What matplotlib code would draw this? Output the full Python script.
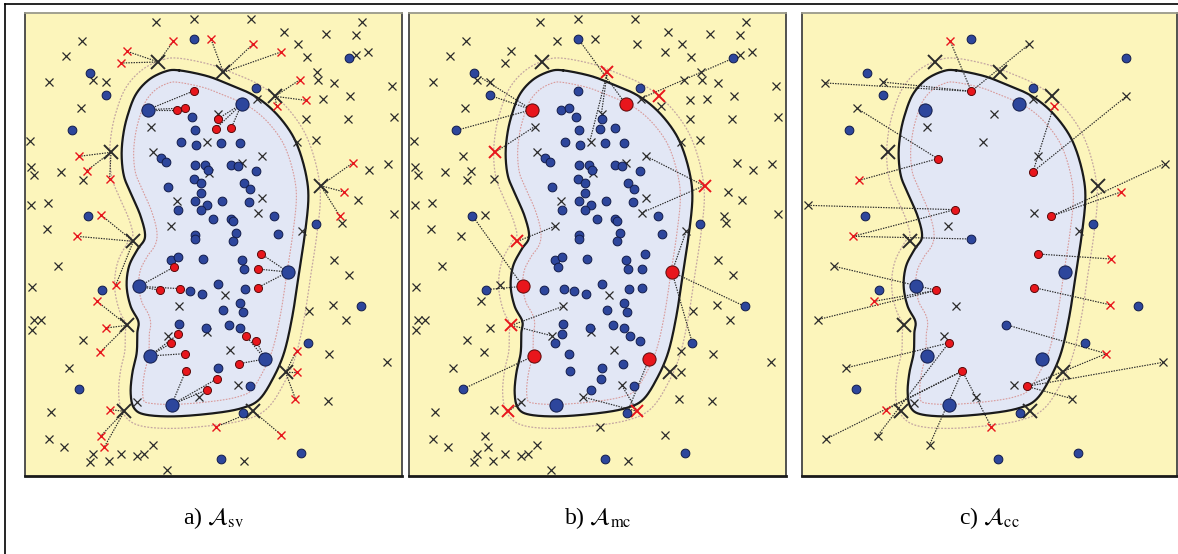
import numpy as np
import matplotlib.pyplot as plt
from matplotlib.path import Path
from matplotlib.lines import Line2D

plt.rcParams['font.family'] = ['Liberation Serif', 'DejaVu Serif']
plt.rcParams['mathtext.fontset'] = 'stix'

# all coordinates in drawing units of one panel (x 28..1159, y 40..1429, y downwards)
# outline of the cluster (smoothed later)
blob_outline = [(490, 212), (570, 228), (630, 250), (710, 285), (770, 330), (820, 390),
                (850, 450), (872, 530), (878, 600), (868, 700), (850, 820), (830, 950),
                (805, 1060), (770, 1140), (730, 1200), (680, 1225), (600, 1240), (480, 1250),
                (390, 1245), (355, 1225), (345, 1180), (350, 1120), (363, 1060), (365, 1000),
                (368, 965), (345, 920), (333, 860), (340, 800), (365, 750), (388, 712),
                (375, 650), (345, 580), (325, 530), (318, 470), (322, 410), (335, 350),
                (360, 285), (400, 240), (450, 215)]

# negative samples (x) and positive samples (dots), shared by panels a and b
x_small = [(420, 66), (536, 58), (705, 58), (1040, 66), (200, 125), (806, 97), (847, 132),
           (931, 104), (1021, 107), (150, 170), (874, 173), (1058, 157), (1021, 167),
           (101, 248), (231, 240), (271, 247), (904, 217), (906, 241), (955, 250), (1128, 258),
           (923, 298), (1003, 290), (196, 326), (870, 357), (998, 357), (1135, 353), (405, 381),
           (723, 298), (606, 342), (573, 427), (845, 427), (901, 422), (43, 425), (413, 457),
           (738, 470), (680, 490), (580, 520), (136, 517), (46, 503), (56, 525), (203, 542),
           (1118, 492), (1061, 512), (483, 603), (738, 595), (726, 640), (1026, 600), (45, 615),
           (98, 610), (466, 680), (860, 693), (980, 670), (1135, 643), (93, 688), (126, 800),
           (956, 780), (1001, 825), (50, 862), (628, 887), (490, 920), (951, 915), (881, 933),
           (991, 960), (56, 962), (76, 962), (50, 990), (573, 997), (458, 1008), (202, 1020),
           (941, 1062), (642, 1050), (1113, 1088), (160, 1105), (666, 1155), (551, 1192),
           (938, 1203), (363, 1208), (107, 1238), (101, 1318), (145, 1342), (413, 1335),
           (233, 1362), (223, 1388), (281, 1385), (316, 1362), (363, 1368), (385, 1362),
           (453, 1410), (686, 1385),
           (473, 125), (586, 118), (713, 132), (796, 157), (334, 155), (316, 190), (853, 240),
           (870, 302), (783, 320), (190, 470), (213, 513), (282, 537), (1011, 490), (986, 577),
           (973, 650), (255, 645), (184, 710), (300, 857), (244, 905), (271, 985), (253, 1058),
           (843, 1053), (843, 1118), (839, 1197), (283, 1230), (256, 1308), (266, 1342),
           (600, 1282), (796, 1305)]
x_big = [(428, 187), (623, 218), (778, 290), (286, 458), (915, 558), (353, 725), (335, 977),
         (810, 1118), (326, 1235), (713, 1235)]

blue_in = [(536, 273), (483, 330), (507, 325), (530, 353), (607, 357), (538, 390), (600, 387),
           (647, 385), (497, 428), (542, 437), (617, 430), (673, 430), (435, 475), (450, 488),
           (537, 495), (567, 495), (578, 510), (645, 495), (668, 500), (722, 515), (535, 537),
           (555, 550), (457, 563), (685, 550), (702, 568), (555, 580), (537, 605), (575, 615),
           (555, 630), (620, 605), (700, 607), (488, 630), (593, 657), (645, 657), (652, 665),
           (776, 650), (660, 700), (538, 705), (537, 718), (653, 724), (786, 703), (465, 780),
           (488, 773), (475, 802), (563, 777), (680, 780), (737, 763), (686, 808), (726, 808),
           (608, 852), (432, 872), (493, 867), (522, 875), (558, 882), (689, 869), (726, 864),
           (673, 910), (622, 930), (683, 936), (490, 972), (570, 985), (640, 975), (674, 985),
           (487, 1004), (467, 1030), (692, 1010), (722, 1023), (507, 1062), (670, 1092),
           (510, 1114), (608, 1105), (603, 1138), (575, 1170), (703, 1160)]
blue_out = [(536, 118), (222, 220), (270, 287), (170, 392), (1000, 176), (722, 265), (218, 648),
            (902, 673), (258, 870), (1035, 920), (878, 1030), (190, 1168), (615, 1378),
            (857, 1360), (682, 1240)]
blue_big = [(396, 330), (678, 313), (817, 817), (370, 860), (402, 1069), (748, 1078), (468, 1215)]

# panel a: points taken over by a support vector (index into blue_big / x_big)
red_dot_a = [(536, 273), (483, 330), (507, 325), (607, 357), (600, 387), (647, 385),
             (737, 763), (726, 808), (726, 864), (475, 802), (432, 872), (493, 867),
             (487, 1004), (467, 1030), (507, 1062), (692, 1010), (722, 1023), (670, 1092),
             (510, 1114), (603, 1138), (575, 1170)]
red_dot_a_sv = [0, 0, 0, 1, 1, 1, 2, 2, 2, 3, 3, 3, 4, 4, 4, 5, 5, 5, 6, 6, 6]
red_x_a = [(473, 125), (334, 155), (316, 190), (586, 118), (713, 132), (796, 157), (853, 240),
           (870, 302), (783, 320), (190, 470), (213, 513), (282, 537), (1011, 490), (986, 577),
           (973, 650), (255, 645), (184, 710), (300, 857), (244, 905), (271, 985), (253, 1058),
           (843, 1053), (843, 1118), (839, 1197), (283, 1230), (256, 1308), (266, 1342),
           (600, 1282), (796, 1305)]
red_x_a_sv = [0, 0, 0, 1, 1, 1, 2, 2, 2, 3, 3, 3, 4, 4, 4, 5, 5, 5, 6, 6, 6, 7, 7, 7, 8, 8, 8, 9, 9]

# panel b: which support vectors turn red, and the links drawn
red_x_b = [1, 2, 3, 4, 5, 6, 8, 9]
red_dot_b = [0, 1, 2, 3, 4, 5]
links_b = [((536, 118), (678, 313)), ((623, 218), (570, 427)), ((623, 218), (605, 343)),
           ((1000, 176), (720, 298)), ((396, 330), (222, 220)), ((396, 330), (270, 287)),
           ((396, 330), (170, 392)), ((286, 458), (403, 382)), ((913, 558), (736, 468)),
           ((913, 558), (725, 640)), ((353, 725), (465, 680)), ((370, 860), (218, 648)),
           ((370, 860), (258, 870)), ((335, 977), (490, 920)), ((335, 977), (455, 1008)),
           ((402, 1069), (190, 1168)), ((326, 1235), (363, 1208)), ((713, 1235), (550, 1192)),
           ((713, 1235), (665, 1155)), ((748, 1078), (682, 1240)), ((817, 817), (1035, 920)),
           ((817, 817), (878, 1030)), ((817, 817), (860, 693))]

# panel c: reduced set
blue_in_c = [(536, 718), (640, 975)]
red_dot_c = [(536, 275), (435, 477), (721, 516), (486, 630), (775, 650), (736, 763),
             (431, 872), (725, 864), (468, 1030), (509, 1114), (702, 1160)]
x_small_c = [(710, 133), (98, 250), (270, 247), (193, 326), (1001, 290), (605, 343), (403, 381),
             (570, 427), (736, 468), (1116, 492), (45, 617), (725, 640), (465, 680), (859, 693),
             (125, 800), (490, 920), (75, 960), (453, 1008), (159, 1105), (1111, 1088),
             (665, 1155), (550, 1192), (838, 1197), (365, 1210), (100, 1318), (255, 1308),
             (411, 1335), (720, 298)]
red_x_c = [(473, 125), (783, 320), (200, 542), (985, 577), (181, 710), (955, 778), (244, 905),
           (951, 915), (941, 1062), (281, 1230), (596, 1282)]
links_c = [((536, 275), (473, 125)), ((536, 275), (98, 250)), ((536, 275), (270, 247)),
           ((536, 275), (710, 133)), ((435, 477), (193, 326)), ((435, 477), (200, 542)),
           ((721, 516), (783, 320)), ((721, 516), (1001, 290)), ((486, 630), (45, 617)),
           ((486, 630), (181, 710)), ((536, 718), (181, 710)), ((775, 650), (1116, 492)),
           ((775, 650), (985, 577)), ((736, 763), (955, 778)), ((431, 872), (125, 800)),
           ((431, 872), (244, 905)), ((431, 872), (75, 960)), ((725, 864), (951, 915)),
           ((640, 975), (941, 1062)), ((468, 1030), (159, 1105)), ((468, 1030), (255, 1308)),
           ((509, 1114), (100, 1318)), ((509, 1114), (281, 1230)), ((509, 1114), (411, 1335)),
           ((509, 1114), (596, 1282)), ((702, 1160), (1111, 1088)), ((702, 1160), (941, 1062)),
           ((702, 1160), (838, 1197))]

captions = [r'a) $\mathcal{A}_{\mathrm{sv}}$', r'b) $\mathcal{A}_{\mathrm{mc}}$',
            r'c) $\mathcal{A}_{\mathrm{cc}}$']

BG = '#fcf5bb'
FILL = '#e2e7f5'
BLUE = '#2d469c'
BLUE_EDGE = '#121c4a'
RED = '#e8161c'
RED_EDGE = '#5a0a0a'
XCOL = '#2b2b2b'


def smooth_closed(pts, n=20):
    # periodic Catmull-Rom
    p = np.array(pts, float)
    out = []
    m = len(p)
    for i in range(m):
        p0, p1, p2, p3 = p[i - 1], p[i], p[(i + 1) % m], p[(i + 2) % m]
        for t in np.linspace(0, 1, n, endpoint=False):
            t2, t3 = t * t, t * t * t
            out.append(0.5 * ((2 * p1) + (-p0 + p2) * t + (2 * p0 - 5 * p1 + 4 * p2 - p3) * t2
                              + (-p0 + 3 * p1 - 3 * p2 + p3) * t3))
    out = np.array(out)
    return np.vstack([out, out[:1]])


curve = smooth_closed(blob_outline)

# signed distance to the outline, for the two margin contours
gx = np.arange(20, 1170, 6.0)
gy = np.arange(30, 1440, 6.0)
GX, GY = np.meshgrid(gx, gy)
sd = np.zeros_like(GX)
for r in range(len(gy)):
    dx = GX[r][:, None] - curve[None, :, 0]
    dy = GY[r][:, None] - curve[None, :, 1]
    sd[r] = np.sqrt(dx ** 2 + dy ** 2).min(axis=1)
inside = Path(curve).contains_points(np.c_[GX.ravel(), GY.ravel()]).reshape(GX.shape)
sd[inside] *= -1


def drop(pts, remove, tol=6):
    rem = np.array(remove, float)
    keep = []
    for p in pts:
        if rem.size == 0 or np.min(np.hypot(rem[:, 0] - p[0], rem[:, 1] - p[1])) > tol:
            keep.append(p)
    return keep


def xs(pts):
    return [p[0] for p in pts]


def ys(pts):
    return [p[1] for p in pts]


def base(ax, xlim_right):
    ax.set_facecolor(BG)
    ax.set_xlim(28, xlim_right)
    ax.set_ylim(1429, 40)
    ax.set_xticks([])
    ax.set_yticks([])
    for s in ax.spines.values():
        s.set_color('#444444')
        s.set_linewidth(1.3)
    ax.spines['bottom'].set_color('#1a1a1a')
    ax.spines['bottom'].set_linewidth(2)
    ax.spines['top'].set_color('#9a9a8a')
    ax.fill(curve[:, 0], curve[:, 1], color=FILL, zorder=1)
    ax.contour(GX, GY, sd, levels=[-36], colors='#d99a9a', linewidths=0.8,
               linestyles=[(0, (1.5, 1.2))], zorder=2)
    ax.contour(GX, GY, sd, levels=[36], colors='#c4a6a2', linewidths=0.9,
               linestyles=[(0, (1.5, 1.2))], zorder=2)
    ax.plot(curve[:, 0], curve[:, 1], color='#1a1a1a', lw=1.6, zorder=2.5)


def link(ax, a, b):
    ax.plot([a[0], b[0]], [a[1], b[1]], color='#2a2a2a', lw=0.85,
            linestyle=(0, (1.2, 1.0)), zorder=3)


def small_x(ax, pts, col=XCOL, ms=5.3, lw=0.9):
    ax.plot(xs(pts), ys(pts), 'x', color=col, ms=ms, mew=lw, zorder=5, linestyle='none')


def dots(ax, pts, col, ms):
    ax.plot(xs(pts), ys(pts), 'o', color=col, mec=BLUE_EDGE if col == BLUE else RED_EDGE,
            mew=0.7, ms=ms, zorder=6, linestyle='none')


fig = plt.figure(figsize=(11.78, 5.54), dpi=100)
W, H = 1178, 554
lefts = [25, 409, 802]
widths = [377, 377, 375]
axes = []
for l, w in zip(lefts, widths):
    axes.append(fig.add_axes([l / W, 78 / H, w / W, 463 / H]))

# ---- a) support vectors
ax = axes[0]
base(ax, 1159)
for p, k in zip(red_dot_a, red_dot_a_sv):
    link(ax, blue_big[k], p)
for p, k in zip(red_x_a, red_x_a_sv):
    link(ax, x_big[k], p)
small_x(ax, drop(x_small, red_x_a))
small_x(ax, red_x_a, col=RED, lw=1.0)
small_x(ax, x_big, ms=10, lw=1.4)
dots(ax, drop(blue_in, red_dot_a) + blue_out, BLUE, 6.3)
dots(ax, red_dot_a, RED, 5.8)
dots(ax, blue_big, BLUE, 9.5)

# ---- b)
ax = axes[1]
base(ax, 1159)
for a, b in links_b:
    link(ax, a, b)
small_x(ax, x_small)
small_x(ax, [p for i, p in enumerate(x_big) if i not in red_x_b], ms=10, lw=1.4)
small_x(ax, [x_big[i] for i in red_x_b], col=RED, ms=9, lw=1.4)
dots(ax, blue_in + blue_out, BLUE, 6.3)
dots(ax, [p for i, p in enumerate(blue_big) if i not in red_dot_b], BLUE, 9.5)
dots(ax, [blue_big[i] for i in red_dot_b], RED, 9.5)

# ---- c)
ax = axes[2]
base(ax, 1153)
for a, b in links_c:
    link(ax, a, b)
small_x(ax, x_small_c)
small_x(ax, red_x_c, col=RED, lw=1.0)
small_x(ax, x_big, ms=10, lw=1.4)
dots(ax, blue_in_c + blue_out, BLUE, 6.3)
dots(ax, red_dot_c, RED, 5.8)
dots(ax, blue_big, BLUE, 9.5)

for l, w, cap in zip(lefts, widths, captions):
    fig.text((l + w / 2) / W, 1 - 518 / H, cap, ha='center', va='center', fontsize=17)

# outer frame
fig.add_artist(Line2D([5 / W, 1], [1 - 4 / H, 1 - 4 / H], color='k', lw=1.2))
fig.add_artist(Line2D([5 / W, 5 / W], [0, 1 - 4 / H], color='k', lw=1.2))

fig.savefig('out.png', dpi=100)
